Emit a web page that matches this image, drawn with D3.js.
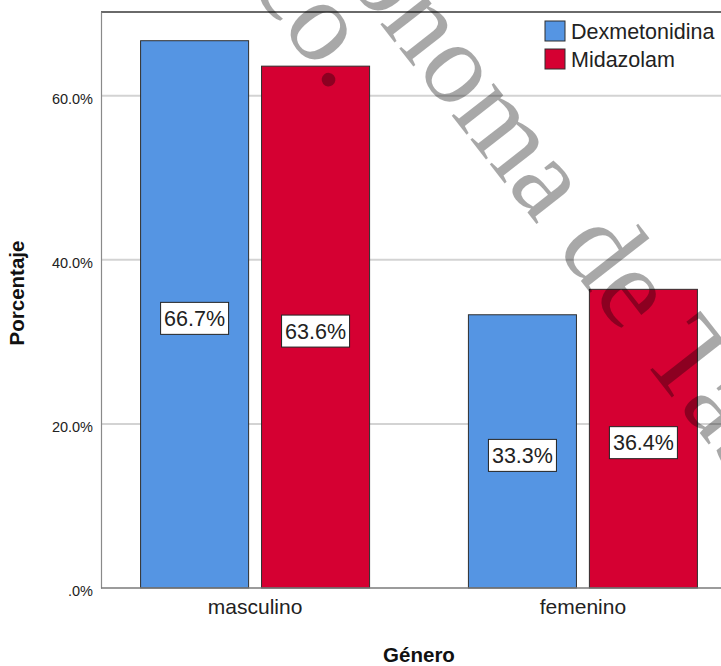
<!DOCTYPE html>
<html>
<head>
<meta charset="utf-8">
<script src="https://cdn.jsdelivr.net/npm/d3@7"></script>
<style>
  html, body { margin: 0; padding: 0; background: #fff; }
  svg { display: block; }
</style>
</head>
<body>
<svg id="chart" width="721" height="666"></svg>
<script>
// Gender categories and the two sedation groups
const categories = ["masculino", "femenino"];
const seriesNames = ["Dexmetonidina", "Midazolam"];
const dexmetonidina = [66.7, 33.3];
const midazolam = [63.6, 36.4];
const yTicks = [0, 20, 40, 60];
const seriesColors = ["#5595e3", "#d50032"];

const values = [dexmetonidina, midazolam];
const rows = categories.map((c, i) => ({
  category: c,
  items: seriesNames.map((s, j) => ({ series: s, value: values[j][i] }))
}));

const svg = d3.select("#chart");
const font = "'Liberation Sans', Arial, sans-serif";

const plotLeft = 101, plotRight = 737, plotTop = 12, plotBottom = 588;

const x0 = d3.scalePoint().domain(categories).range([plotLeft, plotRight]).padding(0.47);
const x1 = d3.scaleBand().domain(seriesNames).range([-114.5, 114.5]).paddingInner(0.107);
const y = d3.scaleLinear().domain([0, 70.2]).range([plotBottom, plotTop]);
const color = d3.scaleOrdinal().domain(seriesNames).range(seriesColors);

// Gridlines
svg.append("g")
  .selectAll("line")
  .data(yTicks.filter(t => t > 0))
  .join("line")
  .attr("x1", plotLeft).attr("x2", plotRight)
  .attr("y1", d => y(d)).attr("y2", d => y(d))
  .attr("stroke", "#d3d3d3").attr("stroke-width", 2);

// Top frame line
svg.append("line")
  .attr("x1", plotLeft).attr("x2", plotRight)
  .attr("y1", plotTop).attr("y2", plotTop)
  .attr("stroke", "#6a6a6a").attr("stroke-width", 2);

// Y axis
const yAxis = svg.append("g")
  .attr("transform", `translate(${plotLeft},0)`)
  .call(d3.axisLeft(y).tickValues(yTicks).tickSize(0).tickPadding(8)
    .tickFormat(d => d === 0 ? ".0%" : d3.format(".1f")(d) + "%"));
yAxis.select(".domain").attr("stroke", "#8a8a8a").attr("stroke-width", 1.2);
yAxis.selectAll("text")
  .attr("font-family", font).attr("font-size", 14.5).attr("fill", "#222")
  .attr("dy", "0.55em");

// Bars
const groups = svg.append("g")
  .selectAll("g")
  .data(rows)
  .join("g")
  .attr("transform", d => `translate(${x0(d.category)},0)`);

groups.selectAll("rect")
  .data(d => d.items)
  .join("rect")
  .attr("x", d => x1(d.series))
  .attr("width", x1.bandwidth())
  .attr("y", d => y(d.value))
  .attr("height", d => y(0) - y(d.value))
  .attr("fill", d => color(d.series))
  .attr("stroke", "#2e2e2e").attr("stroke-width", 1);

// Baseline
svg.append("line")
  .attr("x1", plotLeft).attr("x2", plotRight)
  .attr("y1", plotBottom).attr("y2", plotBottom)
  .attr("stroke", "#7a7a7a").attr("stroke-width", 1.5);

// Value labels in boxes
const labels = groups.selectAll("g.lbl")
  .data(d => d.items)
  .join("g")
  .attr("class", "lbl")
  .attr("transform", d => `translate(${x1(d.series) + x1.bandwidth() / 2},${(y(d.value) + y(0)) / 2 + 4})`);

labels.append("rect")
  .attr("x", -34).attr("y", -16).attr("width", 68).attr("height", 32)
  .attr("fill", "#fff").attr("stroke", "#222").attr("stroke-width", 1);

labels.append("text")
  .attr("text-anchor", "middle").attr("dy", "0.36em")
  .attr("font-family", font).attr("font-size", 21.5).attr("fill", "#222")
  .text(d => d3.format(".1f")(d.value) + "%");

// Category labels
svg.append("g")
  .selectAll("text")
  .data(categories)
  .join("text")
  .attr("x", d => x0(d)).attr("y", 614)
  .attr("text-anchor", "middle")
  .attr("font-family", font).attr("font-size", 21).attr("fill", "#222")
  .text(d => d);

// Axis titles
svg.append("text")
  .attr("x", (plotLeft + plotRight) / 2).attr("y", 662)
  .attr("text-anchor", "middle")
  .attr("font-family", font).attr("font-size", 20.5).attr("font-weight", "bold").attr("fill", "#111")
  .text("Género");

svg.append("text")
  .attr("transform", "translate(24,293) rotate(-90)")
  .attr("text-anchor", "middle")
  .attr("font-family", font).attr("font-size", 20.5).attr("font-weight", "bold").attr("fill", "#111")
  .text("Porcentaje");

// Legend
const legend = svg.append("g").attr("transform", "translate(545,21)");
const li = legend.selectAll("g")
  .data(seriesNames)
  .join("g")
  .attr("transform", (d, i) => `translate(0,${i * 28})`);
li.append("rect")
  .attr("width", 20).attr("height", 20)
  .attr("fill", d => color(d))
  .attr("stroke", "#2e2e2e").attr("stroke-width", 1);
li.append("text")
  .attr("x", 26).attr("y", 10).attr("dy", "0.36em")
  .attr("font-family", font).attr("font-size", 21.5).attr("fill", "#222")
  .text(d => d);

// Diagonal watermark
const wm = svg.append("g")
  .attr("transform", "translate(591,294) rotate(52)")
  .attr("font-family", "'Liberation Serif', 'Times New Roman', serif")
  .attr("font-size", 116)
  .attr("fill", "#000").attr("fill-opacity", 0.34);

const line1 = "Universidad Juárez Autónoma de Tabasco";
const t1 = wm.append("text").text(line1);
const off = t1.node().getSubStringLength(0, line1.indexOf("de Tabasco") + 1);
t1.attr("x", -off);

wm.append("text")
  .attr("x", -316).attr("y", 80)
  .attr("text-anchor", "end")
  .text("México.");
</script>
</body>
</html>
